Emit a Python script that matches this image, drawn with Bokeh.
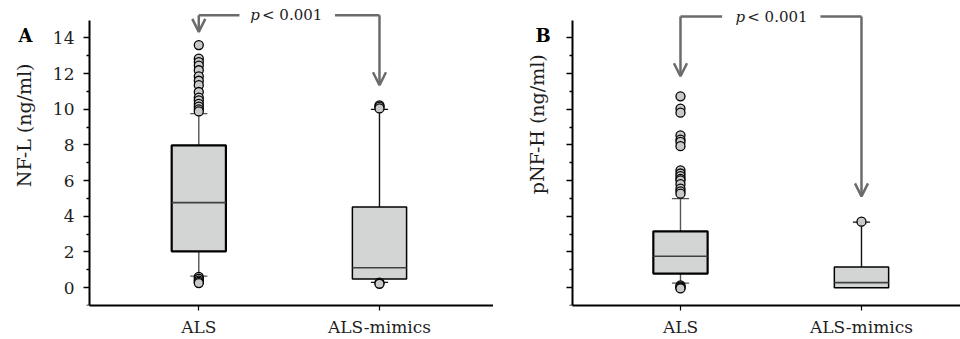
from bokeh.plotting import figure
from bokeh.layouts import row
from bokeh.models import (Range1d, FixedTicker, Arrow, OpenHead, Label)
from bokeh.embed import file_html
from bokeh.resources import INLINE
import math

# ---------------- data ----------------
categories = ["ALS", "ALS-mimics"]
y_ticks = [0, 2, 4, 6, 8, 10, 12, 14]
y_minor = [-1, 1, 3, 5, 7, 9, 11, 13]

# Panel A: NF-L (ng/ml)
nfl_q1 = [2.04, 0.48]
nfl_median = [4.77, 1.12]
nfl_q3 = [7.98, 4.52]
nfl_low = [0.65, 0.30]
nfl_high = [9.76, 10.0]
nfl_out_als = [13.6, 12.84, 12.65, 12.45, 12.19, 11.85, 11.6, 11.35, 10.97, 10.65,
               10.5, 10.3, 10.15, 10.0, 9.88, 0.6, 0.5, 0.4, 0.32, 0.26]
nfl_out_mimics = [10.22, 10.15, 10.05, 0.28, 0.22]

# Panel B: pNF-H (ng/ml)
pnfh_q1 = [0.79, 0.0]
pnfh_median = [1.76, 0.28]
pnfh_q3 = [3.16, 1.16]
pnfh_low = [0.26, 0.0]
pnfh_high = [4.99, 3.68]
pnfh_out_als = [10.73, 10.04, 9.81, 8.54, 8.3, 8.17, 7.93, 6.58, 6.4, 6.25, 6.1,
                6.02, 5.8, 5.55, 5.4, 5.27, 0.13, 0.06, 0.0, -0.04]
pnfh_out_mimics = [3.7]

p_text = "< 0.001"

FONT = "DejaVu Serif"
ARROW_C = "#6b6b6b"
BOX_FILL = "#d3d5d5"
TXT = "#1e1e1e"


def make_panel(width, xr, axis_x, letter, ylabel, q1, med, q3, lo, hi,
               outs, show_labels, bracket, ylabel_pos, letter_pos):
    p = figure(width=width, height=339, output_backend="svg", toolbar_location=None,
               x_range=Range1d(*xr), y_range=Range1d(-1, 16.1),
               min_border_left=0, min_border_right=0,
               min_border_top=0, min_border_bottom=34)
    p.outline_line_color = None
    p.grid.visible = False
    p.background_fill_color = None
    p.border_fill_color = None

    xs = list(range(len(categories)))
    bw = 0.30
    cw = 0.095
    # whiskers
    for i in xs:
        wc = "#555555" if i == 0 else "#111111"
        p.segment(x0=[i], y0=[q3[i]], x1=[i], y1=[hi[i]], line_color=wc, line_width=1.4)
        p.segment(x0=[i - cw / 2], y0=[hi[i]], x1=[i + cw / 2], y1=[hi[i]], line_color=wc, line_width=1.2)
        if lo[i] < q1[i]:
            p.segment(x0=[i], y0=[lo[i]], x1=[i], y1=[q1[i]], line_color=wc, line_width=1.4)
            p.segment(x0=[i - cw / 2], y0=[lo[i]], x1=[i + cw / 2], y1=[lo[i]], line_color=wc, line_width=1.2)
    # boxes
    for i in xs:
        lw = 2.2 if i == 0 else 1.5
        p.quad(left=[i - bw / 2], right=[i + bw / 2], bottom=[q1[i]], top=[q3[i]],
               fill_color=BOX_FILL, line_color="black", line_width=lw)
        p.segment(x0=[i - bw / 2], y0=[med[i]], x1=[i + bw / 2], y1=[med[i]],
                  line_color="#404040", line_width=1.6)
    # outliers
    for i, o in enumerate(outs):
        p.scatter(x=[i] * len(o), y=o, size=9, fill_color="#c9c9c9",
                  line_color="black", line_width=1.3)

    # axes
    yax = p.yaxis[0]
    yax.fixed_location = axis_x
    yax.bounds = (-1, 15)
    yax.ticker = FixedTicker(ticks=y_ticks, minor_ticks=y_minor)
    yax.axis_line_width = 2
    yax.major_tick_line_width = 1.5
    yax.minor_tick_line_width = 1.5
    yax.major_tick_out = 6
    yax.major_tick_in = 0
    yax.minor_tick_out = 3
    yax.minor_tick_in = 0
    yax.major_label_standoff = 9
    yax.major_label_text_font = FONT
    yax.major_label_text_font_size = "17px"
    yax.major_label_text_color = TXT if show_labels else None

    xax = p.xaxis[0]
    xax.bounds = (axis_x, xr[1])
    xax.ticker = FixedTicker(ticks=xs, minor_ticks=[])
    xax.major_label_overrides = {i: c for i, c in enumerate(categories)}
    xax.axis_line_width = 2
    xax.major_tick_out = 5
    xax.major_tick_in = 0
    xax.major_tick_line_width = 1.2
    xax.major_label_standoff = 6
    xax.major_label_text_font = FONT
    xax.major_label_text_font_size = "17px"
    xax.major_label_text_color = TXT

    # y-axis title and panel letter
    p.add_layout(Label(x=ylabel_pos[0], y=ylabel_pos[1], text=ylabel, angle=math.pi / 2,
                       text_align="center", text_baseline="middle", text_font=FONT,
                       text_font_size="19px", text_color=TXT))
    p.add_layout(Label(x=letter_pos[0], y=letter_pos[1], text=letter, text_font=FONT,
                       text_font_style="bold", text_font_size="18px",
                       text_align="left", text_baseline="alphabetic", text_color="black"))

    # significance bracket
    by, e0, e1, gl, gr, tx = bracket
    for (xa, xb) in [(0, gl), (gr, 1)]:
        p.add_layout(Arrow(end=None, x_start=xa, y_start=by, x_end=xb, y_end=by,
                           line_color=ARROW_C, line_width=2.5))
    for xi, ye in [(0, e0), (1, e1)]:
        p.add_layout(Arrow(end=OpenHead(size=13, line_color=ARROW_C, line_width=2.5),
                           x_start=xi, y_start=by, x_end=xi, y_end=ye,
                           line_color=ARROW_C, line_width=2.5))
    p.add_layout(Label(x=tx, y=by, text="p", text_font=FONT, text_font_style="italic",
                       text_font_size="15px", text_align="left", text_baseline="middle",
                       text_color=TXT))
    p.add_layout(Label(x=tx + 0.065, y=by, text=p_text, text_font=FONT,
                       text_font_size="15px", text_align="left", text_baseline="middle",
                       text_color=TXT))
    return p


pA = make_panel(493, (-1.0974, 1.631), -0.605, "A", "NF-L (ng/ml)",
                nfl_q1, nfl_median, nfl_q3, nfl_low, nfl_high,
                [nfl_out_als, nfl_out_mimics], True,
                (15.27, 14.34, 11.35, 0.225, 0.754, 0.285),
                (-0.970, 9.10), (-0.998, 14.15))
pB = make_panel(467, (-1.033, 1.547), -0.595, "B", "pNF-H (ng/ml)",
                pnfh_q1, pnfh_median, pnfh_q3, pnfh_low, pnfh_high,
                [pnfh_out_als, pnfh_out_mimics], False,
                (15.2, 11.85, 5.12, 0.23, 0.773, 0.304),
                (-0.79, 9.16), (-0.801, 14.15))

layout = row(pA, pB)
open("out.html", "w").write(file_html(layout, INLINE))
